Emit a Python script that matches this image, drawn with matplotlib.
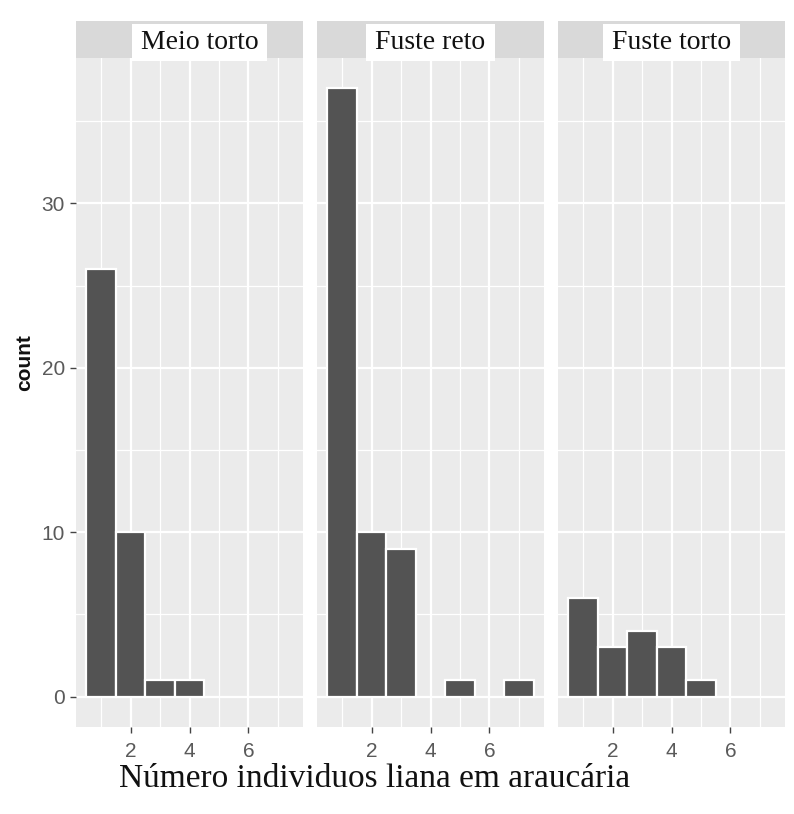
import matplotlib
matplotlib.use("Agg")
import matplotlib.pyplot as plt
from matplotlib.patches import Rectangle

# Counts of lianas per araucaria tree, one histogram per stem class
facets = ["Meio torto", "Fuste reto", "Fuste torto"]
meio_torto_x = [1, 2, 3, 4]
meio_torto_count = [26, 10, 1, 1]
fuste_reto_x = [1, 2, 3, 5, 7]
fuste_reto_count = [37, 10, 9, 1, 1]
fuste_torto_x = [1, 2, 3, 4, 5]
fuste_torto_count = [6, 3, 4, 3, 1]
x_ticks = [2, 4, 6]
y_ticks = [0, 10, 20, 30]
x_label = "Número individuos liana em araucária"
y_label = "count"

series = [
    (meio_torto_x, meio_torto_count),
    (fuste_reto_x, fuste_reto_count),
    (fuste_torto_x, fuste_torto_count),
]

W, H = 794, 814
fig = plt.figure(figsize=(W / 100, H / 100), dpi=100)
fig.patch.set_facecolor("white")


def rect(left, top, width, height):
    return [left / W, 1 - (top + height) / H, width / W, height / H]


PANEL_BG = "#EBEBEB"
STRIP_BG = "#D9D9D9"
BAR = "#535353"
TICK_TXT = "#5A5A5A"
TICK_LINE = "#444444"

panel_lefts = [76, 317, 558]
panel_w = 227
panel_top = 58
panel_h = 669
strip_h = 37

# shared scales (facet_wrap with fixed scales, ggplot-style 5% expansion)
all_x = [v for xs, _ in series for v in xs]
all_y = [v for _, ys in series for v in ys]
x_lo, x_hi = min(all_x) - 0.5, max(all_x) + 0.5
x_pad = 0.05 * (x_hi - x_lo)
y_hi = max(all_y)
y_pad = 0.05 * y_hi

minor_x = [1, 3, 5, 7]
minor_y = [5, 15, 25, 35]

labels = []
for i, (name, (xs, ys)) in enumerate(zip(facets, series)):
    ax = fig.add_axes(rect(panel_lefts[i], panel_top, panel_w, panel_h))
    ax.set_facecolor(PANEL_BG)
    ax.set_xlim(x_lo - x_pad, x_hi + x_pad)
    ax.set_ylim(-y_pad, y_hi + y_pad)
    for v in minor_x:
        ax.axvline(v, color="white", lw=0.9, zorder=0.5)
    for v in minor_y:
        ax.axhline(v, color="white", lw=0.9, zorder=0.5)
    for v in x_ticks:
        ax.axvline(v, color="white", lw=1.6, zorder=0.6)
    for v in y_ticks:
        ax.axhline(v, color="white", lw=1.6, zorder=0.6)
    ax.bar(xs, ys, width=1.0, color=BAR, edgecolor="white", linewidth=1.6,
           zorder=2)
    for s in ax.spines.values():
        s.set_visible(False)
    ax.set_xticks(x_ticks)
    ax.set_xticklabels([str(t) for t in x_ticks])
    ax.tick_params(axis="x", length=4, width=1, color=TICK_LINE, pad=7,
                   labelsize=15, labelcolor=TICK_TXT)
    for lab in ax.get_xticklabels():
        lab.set_family("Liberation Sans")
    if i == 0:
        ax.set_yticks(y_ticks)
        ax.set_yticklabels([str(t) for t in y_ticks])
        ax.tick_params(axis="y", length=4, width=1, color=TICK_LINE, pad=4,
                       labelsize=15, labelcolor=TICK_TXT)
        for lab in ax.get_yticklabels():
            lab.set_family("Liberation Sans")
    else:
        ax.set_yticks([])

    # facet strip
    sax = fig.add_axes(rect(panel_lefts[i], panel_top - strip_h, panel_w, strip_h))
    sax.set_facecolor(STRIP_BG)
    sax.set_xticks([])
    sax.set_yticks([])
    for s in sax.spines.values():
        s.set_visible(False)
    cx = (panel_lefts[i] + panel_w / 2 + (10 if i == 0 else 0)) / W
    cy = 1 - (panel_top - strip_h / 2 + 3) / H
    t = fig.text(cx, cy, name, ha="center", va="center", fontsize=20,
                 family="Liberation Serif", color="#111111", zorder=10)
    labels.append(t)

# white label boxes behind strip titles
fig.canvas.draw()
renderer = fig.canvas.get_renderer()
for t in labels:
    bb = t.get_window_extent(renderer)
    pad_x = 9
    top_px = panel_top - strip_h + 3
    bot_px = panel_top + 3
    r = Rectangle((bb.x0 - pad_x, H - bot_px), bb.width + 2 * pad_x,
                  bot_px - top_px, transform=None, facecolor="white",
                  edgecolor="none", zorder=9)
    fig.patches.append(r)

fig.text(375 / W, 1 - 779 / H, x_label, ha="center", va="center",
         fontsize=24, family="Liberation Serif", color="#111111")
fig.text(25 / W, 1 - 363 / H, y_label, ha="center", va="center",
         rotation=90, fontsize=15, fontweight="bold",
         family="Liberation Sans", color="#111111")

fig.savefig("out.png", dpi=100, facecolor="white")
